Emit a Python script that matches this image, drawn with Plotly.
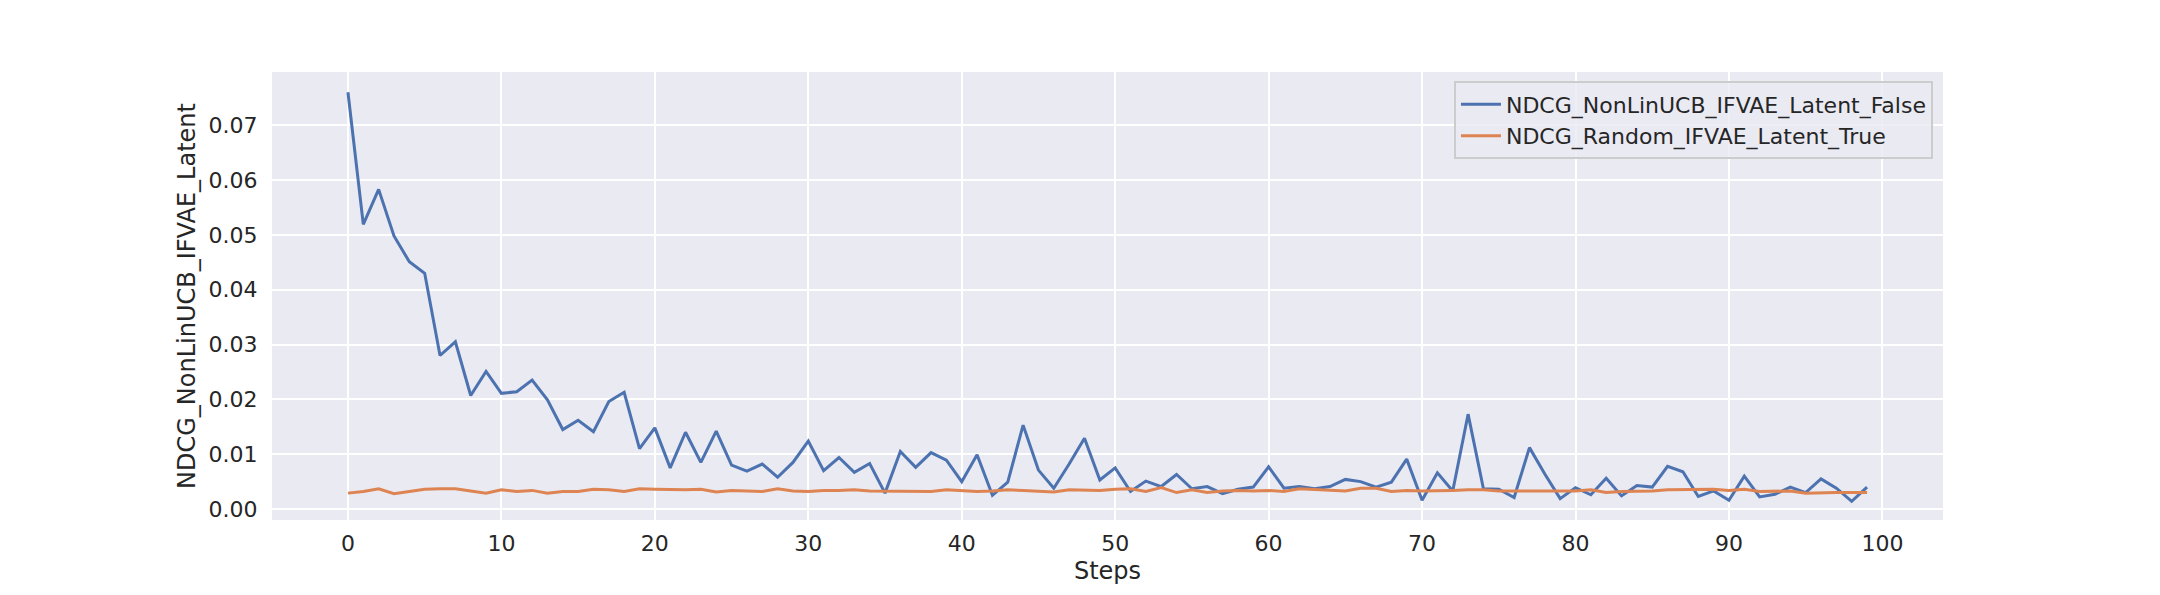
import plotly.graph_objects as go

steps = list(range(100))

ndcg_nonlinucb = [
    0.0760, 0.0519, 0.0583, 0.0498, 0.0451, 0.0430, 0.0280, 0.0305, 0.0207, 0.0251,
    0.0211, 0.0214, 0.0235, 0.0199, 0.0145, 0.0162, 0.0141, 0.0196, 0.0213, 0.0110,
    0.0148, 0.0075, 0.0140, 0.0085, 0.0142, 0.0080, 0.0069, 0.0082, 0.0058, 0.0085,
    0.0124, 0.0070, 0.0094, 0.0067, 0.0083, 0.0029, 0.0105, 0.0076, 0.0103, 0.0089,
    0.0050, 0.0099, 0.0025, 0.0049, 0.0153, 0.0071, 0.0038, 0.0082, 0.0129, 0.0053,
    0.0075, 0.0032, 0.0051, 0.0041, 0.0063, 0.0037, 0.0041, 0.0028, 0.0036, 0.0040,
    0.0077, 0.0038, 0.0041, 0.0037, 0.0041, 0.0054, 0.0050, 0.0040, 0.0049, 0.0091,
    0.0016, 0.0066, 0.0033, 0.0173, 0.0037, 0.0036, 0.0021, 0.0112, 0.0064, 0.0019,
    0.0039, 0.0026, 0.0056, 0.0024, 0.0043, 0.0040, 0.0078, 0.0068, 0.0023, 0.0033,
    0.0016, 0.0060, 0.0022, 0.0027, 0.0040, 0.0030, 0.0055, 0.0038, 0.0014, 0.0040,
]

ndcg_random = [
    0.0029, 0.0032, 0.0037, 0.0028, 0.0032, 0.0036, 0.0037, 0.0037, 0.0033, 0.0029,
    0.0035, 0.0032, 0.0034, 0.0029, 0.0032, 0.0032, 0.0036, 0.0035, 0.0032, 0.0037,
    0.0036, 0.0035, 0.0035, 0.0036, 0.0031, 0.0034, 0.0033, 0.0032, 0.0037, 0.0033,
    0.0032, 0.0034, 0.0034, 0.0035, 0.0033, 0.0033, 0.0033, 0.0033, 0.0032, 0.0035,
    0.0034, 0.0032, 0.0033, 0.0035, 0.0034, 0.0033, 0.0031, 0.0035, 0.0034, 0.0034,
    0.0036, 0.0037, 0.0032, 0.0039, 0.0030, 0.0035, 0.0030, 0.0033, 0.0034, 0.0033,
    0.0034, 0.0032, 0.0037, 0.0036, 0.0034, 0.0033, 0.0038, 0.0038, 0.0032, 0.0034,
    0.0033, 0.0033, 0.0034, 0.0035, 0.0035, 0.0033, 0.0033, 0.0033, 0.0033, 0.0033,
    0.0033, 0.0035, 0.0030, 0.0032, 0.0032, 0.0033, 0.0035, 0.0035, 0.0035, 0.0036,
    0.0034, 0.0036, 0.0032, 0.0032, 0.0033, 0.0029, 0.0030, 0.0030, 0.0030, 0.0030,
]

series_names = ["NDCG_NonLinUCB_IFVAE_Latent_False", "NDCG_Random_IFVAE_Latent_True"]
x_ticks = [0, 10, 20, 30, 40, 50, 60, 70, 80, 90, 100]
y_ticks = [0.00, 0.01, 0.02, 0.03, 0.04, 0.05, 0.06, 0.07]

FONT = "DejaVu Sans, Liberation Sans, sans-serif"
TEXT = "#262626"

fig = go.Figure()
fig.add_trace(go.Scatter(x=steps, y=ndcg_nonlinucb, mode="lines", name=series_names[0],
                         line=dict(color="#4C72B0", width=3)))
fig.add_trace(go.Scatter(x=steps, y=ndcg_random, mode="lines", name=series_names[1],
                         line=dict(color="#DD8452", width=3)))

fig.update_layout(
    width=2160, height=595,
    margin=dict(l=264, r=225, t=64, b=83, autoexpand=False),
    paper_bgcolor="white",
    plot_bgcolor="#EAEAF2",
    font=dict(family=FONT, size=22, color=TEXT),
    showlegend=True,
    legend=dict(
        x=0.994, y=0.979, xanchor="right", yanchor="top",
        bgcolor="rgba(234,234,242,0.8)",
        bordercolor="#CCCCCC", borderwidth=2,
        font=dict(family=FONT, size=22, color=TEXT),
        tracegroupgap=0,
        itemwidth=40,
    ),
    xaxis=dict(
        range=[-4.95, 103.95],
        tickvals=x_ticks,
        ticktext=[str(v) for v in x_ticks],
        showgrid=True, gridcolor="white", gridwidth=2,
        zeroline=False, showline=False,
        ticks="outside", ticklen=4, tickcolor="rgba(0,0,0,0)",
        tickfont=dict(size=22, color=TEXT),
        title=dict(text="Steps", font=dict(size=24, color=TEXT), standoff=6),
        automargin=False,
    ),
    yaxis=dict(
        range=[-0.0020, 0.0797],
        tickvals=y_ticks,
        ticktext=[f"{v:.2f}" for v in y_ticks],
        showgrid=True, gridcolor="white", gridwidth=2,
        zeroline=False, showline=False,
        ticks="outside", ticklen=9, tickcolor="rgba(0,0,0,0)",
        tickfont=dict(size=22, color=TEXT),
        title=dict(text="NDCG_NonLinUCB_IFVAE_Latent", font=dict(size=24, color=TEXT), standoff=6),
        automargin=False,
    ),
)

fig.write_html("out.html")
